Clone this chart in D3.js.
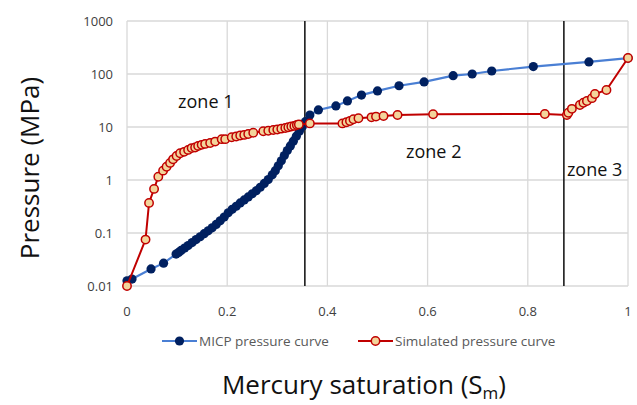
<!DOCTYPE html>
<html>
<head>
<meta charset="utf-8">
<script src="https://cdn.jsdelivr.net/npm/d3@7"></script>
<style>
body{margin:0;background:#fff;}
svg text{font-family:"Open Sans","Noto Sans",sans-serif;}
</style>
</head>
<body>
<div id="chart"></div>
<script>
// MICP pressure curve (Sm, MPa)
var micpX=[0.000,0.010,0.048,0.073,0.098,0.103,0.108,0.115,0.122,0.130,0.138,0.146,0.154,0.162,0.170,0.178,0.186,0.194,0.202,0.210,0.218,0.226,0.234,0.242,0.250,0.258,0.266,0.274,0.282,0.290,0.296,0.302,0.308,0.314,0.320,0.326,0.332,0.338,0.344,0.350,0.356,0.365,0.382,0.417,0.440,0.468,0.500,0.543,0.593,0.651,0.689,0.728,0.811,0.922,1.000];
var micpY=[0.0125,0.0135,0.021,0.027,0.040,0.043,0.047,0.052,0.058,0.066,0.075,0.085,0.097,0.11,0.125,0.145,0.17,0.20,0.24,0.28,0.32,0.37,0.42,0.48,0.55,0.63,0.73,0.86,1.02,1.25,1.5,1.85,2.3,2.9,3.6,4.4,5.4,6.7,8.3,10.2,12.6,16.8,21,25,31,40,48,60,71,93,100,114,138,169,200];
// simulated pressure curve
var simX=[0.000,0.037,0.044,0.054,0.0625,0.072,0.079,0.086,0.092,0.099,0.106,0.114,0.122,0.129,0.136,0.142,0.149,0.156,0.166,0.176,0.189,0.196,0.209,0.218,0.226,0.234,0.242,0.252,0.272,0.282,0.292,0.300,0.308,0.316,0.322,0.328,0.334,0.339,0.343,0.365,0.430,0.438,0.445,0.452,0.462,0.488,0.497,0.512,0.540,0.611,0.834,0.878,0.881,0.888,0.904,0.911,0.918,0.928,0.934,0.957,1.000];
var simY=[0.010,0.075,0.37,0.68,1.15,1.5,1.78,2.1,2.45,2.83,3.2,3.4,3.7,4.0,4.1,4.4,4.6,4.8,5.0,5.3,5.9,5.9,6.4,6.6,6.9,7.1,7.4,7.8,8.3,8.5,8.8,9.0,9.3,9.6,9.9,10.2,10.5,10.9,11.2,11.7,11.7,12.3,13,14,14.6,15.2,15.7,16.1,16.8,17.4,17.6,16.8,18.6,22,26,28.7,31,35,42,50,200];
var zoneBounds=[0.355,0.872];
var zoneLabels=["zone 1","zone 2","zone 3"];
var zoneLabelPos=[[0.102,23],[0.557,2.6],[0.878,1.2]];
var xTicks=[0,0.2,0.4,0.6,0.8,1];
var yTicks=[0.01,0.1,1,10,100,1000];
var seriesNames=["MICP pressure curve","Simulated pressure curve"];

var W=637,H=405;
var pl=127,pr=628,pt=21,pb=286;

var svg=d3.select("#chart").append("svg").attr("width",W).attr("height",H);

var x=d3.scaleLinear().domain([0,1]).range([pl,pr]);
var y=d3.scaleLog().domain([0.01,1000]).range([pb,pt]);

// grid
var grid=svg.append("g");
grid.selectAll("line.h").data(yTicks).enter().append("line")
	.attr("x1",pl).attr("x2",pr)
	.attr("y1",function(d){return y(d);}).attr("y2",function(d){return y(d);})
	.style("stroke","#d9d9d9").style("stroke-width",1.3);
grid.selectAll("line.v").data(xTicks).enter().append("line")
	.attr("y1",pt).attr("y2",pb)
	.attr("x1",function(d){return x(d);}).attr("x2",function(d){return x(d);})
	.style("stroke","#d9d9d9").style("stroke-width",1.3);

// tick labels
svg.append("g").selectAll("text").data(yTicks).enter().append("text")
	.attr("x",113).attr("y",function(d){return y(d)+4.5;})
	.attr("text-anchor","end").style("font-size","13px").style("fill","#404040")
	.text(function(d){return d3.format("~g")(d);});
svg.append("g").selectAll("text").data(xTicks).enter().append("text")
	.attr("x",function(d){return x(d);}).attr("y",316)
	.attr("text-anchor","middle").style("font-size","13px").style("fill","#404040")
	.text(function(d){return d3.format("~g")(d);});

// zone dividers
svg.append("g").selectAll("line").data(zoneBounds).enter().append("line")
	.attr("x1",function(d){return x(d);}).attr("x2",function(d){return x(d);})
	.attr("y1",pt).attr("y2",pb)
	.style("stroke","#1a1a1a").style("stroke-width",1.6);

var line=d3.line().x(function(d){return x(d[0]);}).y(function(d){return y(d[1]);});
var micp=d3.zip(micpX,micpY);
var sim=d3.zip(simX,simY);

svg.append("path").datum(micp).attr("d",line)
	.style("fill","none").style("stroke","#4a7fd4").style("stroke-width",2.2);
svg.append("g").selectAll("circle").data(micp).enter().append("circle")
	.attr("cx",function(d){return x(d[0]);}).attr("cy",function(d){return y(d[1]);})
	.attr("r",4.6).style("fill","#002060");

svg.append("path").datum(sim).attr("d",line)
	.style("fill","none").style("stroke","#c00000").style("stroke-width",2);
svg.append("g").selectAll("circle").data(sim).enter().append("circle")
	.attr("cx",function(d){return x(d[0]);}).attr("cy",function(d){return y(d[1]);})
	.attr("r",4.2).style("fill","#f3d49b").style("stroke","#c00000").style("stroke-width",1.5);

// zone labels
svg.append("g").selectAll("text").data(zoneLabels).enter().append("text")
	.attr("x",function(d,i){return x(zoneLabelPos[i][0]);})
	.attr("y",function(d,i){return y(zoneLabelPos[i][1]);})
	.style("font-size","18px").style("fill","#111")
	.text(function(d){return d;});

// legend
var legend=svg.append("g");
var lx=[162,358],lcol=["#4a7fd4","#c00000"];
legend.selectAll("line").data(seriesNames).enter().append("line")
	.attr("x1",function(d,i){return lx[i];}).attr("x2",function(d,i){return lx[i]+35;})
	.attr("y1",341).attr("y2",341)
	.style("stroke",function(d,i){return lcol[i];}).style("stroke-width",2.2);
legend.append("circle").attr("cx",lx[0]+17.5).attr("cy",341).attr("r",4.6).style("fill","#002060");
legend.append("circle").attr("cx",lx[1]+17.5).attr("cy",341).attr("r",4.2)
	.style("fill","#f3d49b").style("stroke","#c00000").style("stroke-width",1.5);
legend.selectAll("text").data(seriesNames).enter().append("text")
	.attr("x",function(d,i){return lx[i]+37;}).attr("y",346)
	.style("font-size","13.5px").style("fill","#595959")
	.text(function(d){return d;});

// axis titles
svg.append("text").attr("transform","translate(39,168) rotate(-90)")
	.attr("text-anchor","middle").style("font-size","26px").style("fill","#111")
	.text("Pressure (MPa)");
var xt=svg.append("text").attr("x",364).attr("y",394)
	.attr("text-anchor","middle").style("font-size","26px").style("fill","#111");
xt.append("tspan").text("Mercury saturation (S");
xt.append("tspan").attr("dy",5).style("font-size","17px").text("m");
xt.append("tspan").attr("dy",-5).text(")");
</script>
</body>
</html>
